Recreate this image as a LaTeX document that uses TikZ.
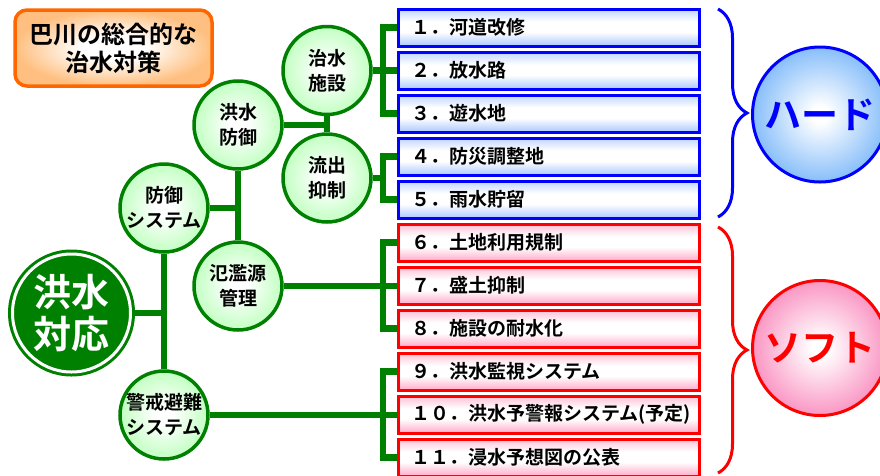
\documentclass[tikz,border=0pt]{standalone}
\usepackage{fontspec}
\setmainfont{Noto Sans CJK JP}[BoldFont={Noto Sans CJK JP Bold}]
\usetikzlibrary{backgrounds,decorations.pathreplacing}

\definecolor{grn}{RGB}{0,128,0}
\definecolor{orng}{RGB}{255,102,0}
\definecolor{hardblue}{RGB}{0,0,255}
\definecolor{softred}{RGB}{255,0,0}
\definecolor{paleblue}{RGB}{170,200,255}
\definecolor{palepink}{RGB}{255,170,200}
\definecolor{skyblue}{RGB}{135,190,250}
\definecolor{rosepink}{RGB}{250,150,195}
\pgfdeclareradialshading{greenglow}{\pgfpoint{0bp}{0bp}}{color(0bp)=(white); color(5bp)=(white); color(25bp)=(green!24); color(50bp)=(green!24)}
\pgfdeclareradialshading{blueglow}{\pgfpoint{0bp}{0bp}}{color(0bp)=(white); color(3bp)=(white); color(25bp)=(skyblue); color(50bp)=(skyblue)}
\pgfdeclareradialshading{pinkglow}{\pgfpoint{0bp}{0bp}}{color(0bp)=(white); color(3bp)=(white); color(25bp)=(rosepink); color(50bp)=(rosepink)}
\pgfdeclareradialshading{orangeglow}{\pgfpoint{0bp}{0bp}}{color(0bp)=(white); color(8bp)=(white); color(25bp)=(orange!50!white); color(50bp)=(orange!50!white)}
\pgfdeclareverticalshading{bluebar}{100bp}{color(0bp)=(paleblue); color(25bp)=(paleblue); color(44bp)=(white); color(58bp)=(white); color(75bp)=(paleblue!75!white); color(100bp)=(paleblue!75!white)}
\pgfdeclareverticalshading{pinkbar}{100bp}{color(0bp)=(palepink); color(25bp)=(palepink); color(44bp)=(white); color(58bp)=(white); color(75bp)=(palepink!75!white); color(100bp)=(palepink!75!white)}

\begin{document}
\begin{tikzpicture}[x=1pt, y=-1pt,
    link/.style={draw=grn, line width=6.5pt},
    topic/.style={circle, draw=grn, line width=3.5pt, minimum size=88pt, inner sep=0pt,
      shading=greenglow, align=center, font=\fontsize{19}{25}\selectfont\bfseries},
    item/.style={rectangle, draw, line width=3pt, anchor=west, minimum height=37pt,
      text width=276pt, inner xsep=12.5pt, align=left, font=\fontsize{19}{22}\selectfont\bfseries},
    hardbox/.style={item, draw=hardblue, shading=bluebar},
    softbox/.style={item, draw=softred, shading=pinkbar},
    kind/.style={circle, line width=3pt, minimum size=135pt, inner sep=0pt, font=\fontsize{37}{40}\selectfont\bfseries},
    bracefrm/.style={decorate, decoration={brace, amplitude=29pt}, line width=3pt}
  ]
  \useasboundingbox (0,0) rectangle (880,475);
  \clip (0,0) rectangle (880,475);

  % title
  \node[rectangle, rounded corners=12pt, draw=orng, line width=3.5pt, shading=orangeglow,
    minimum width=197pt, minimum height=76pt, align=center,
    font=\fontsize{24}{28}\selectfont\bfseries] (title) at (113.5,48) {巴川の総合的な\\治水対策};

  % tree
  \node[circle, fill=grn, draw=grn, line width=3pt, double=white, double distance=3pt,
    minimum size=118pt, inner sep=0pt, text=white, align=center,
    font=\fontsize{38}{42}\selectfont\bfseries] (taiou) at (71.5,313) {洪水\\対応};
  \node[topic] (bougyo) at (164,208) {防御\\システム};
  \node[topic] (keikai) at (164,415) {警戒避難\\システム};
  \node[topic] (kouzui) at (238,125) {洪水\\防御};
  \node[topic] (hanran) at (238,286) {氾濫源\\管理};
  \node[topic] (shisetsu) at (327,70.5) {治水\\施設};
  \node[topic] (ryuushutsu) at (327,178) {流出\\抑制};

  % measures
  \node[hardbox] (b1) at (397,27.5) {１．河道改修};
  \node[hardbox] (b2) at (397,70.5) {２．放水路};
  \node[hardbox] (b3) at (397,113.5) {３．遊水地};
  \node[hardbox] (b4) at (397,156.5) {４．防災調整地};
  \node[hardbox] (b5) at (397,199.5) {５．雨水貯留};
  \node[softbox] (b6) at (397,242.5) {６．土地利用規制};
  \node[softbox] (b7) at (397,285.5) {７．盛土抑制};
  \node[softbox] (b8) at (397,328.5) {８．施設の耐水化};
  \node[softbox] (b9) at (397,371.5) {９．洪水監視システム};
  \node[softbox] (b10) at (397,414.5) {１０．洪水予警報システム(予定)};
  \node[softbox] (b11) at (397,457.5) {１１．浸水予想図の公表};

  % hard / soft
  \node[kind, draw=hardblue, shading=blueglow, text=hardblue] (hard) at (820,114.5) {ハード};
  \node[kind, draw=softred, shading=pinkglow, text=softred] (soft) at (820,348) {ソフト};
  \coordinate (hardtop) at (718,9);
  \coordinate (hardbot) at (718,217);
  \coordinate (softtop) at (718,227);
  \coordinate (softbot) at (718,473);
  \draw[bracefrm, hardblue] (hardtop) -- (hardbot);
  \draw[bracefrm, softred] (softtop) -- (softbot);

  % connectors
  \coordinate (j) at (383,0);
  \begin{scope}[on background layer]
    \draw[link] (taiou) -- (taiou -| bougyo);
    \draw[link] (bougyo) -- (keikai);
    \draw[link] (bougyo) -- (bougyo -| kouzui);
    \draw[link] (kouzui) -- (hanran);
    \draw[link] (kouzui) -- (kouzui -| shisetsu);
    \draw[link] (shisetsu) -- (ryuushutsu);
    \draw[link] (shisetsu) -- (shisetsu -| b2.west);
    \draw[link] (b1.west) -- (b1.west -| j) |- (b3.west);
    \draw[link] (ryuushutsu) -- (ryuushutsu -| j);
    \draw[link] (b4.west) -- (b4.west -| j) |- (b5.west);
    \draw[link] (hanran) -- (hanran -| b7.west);
    \draw[link] (b6.west) -- (b6.west -| j) |- (b8.west);
    \draw[link] (keikai) -- (keikai -| b10.west);
    \draw[link] (b9.west) -- (b9.west -| j) |- (b11.west);
  \end{scope}
\end{tikzpicture}
\end{document}
